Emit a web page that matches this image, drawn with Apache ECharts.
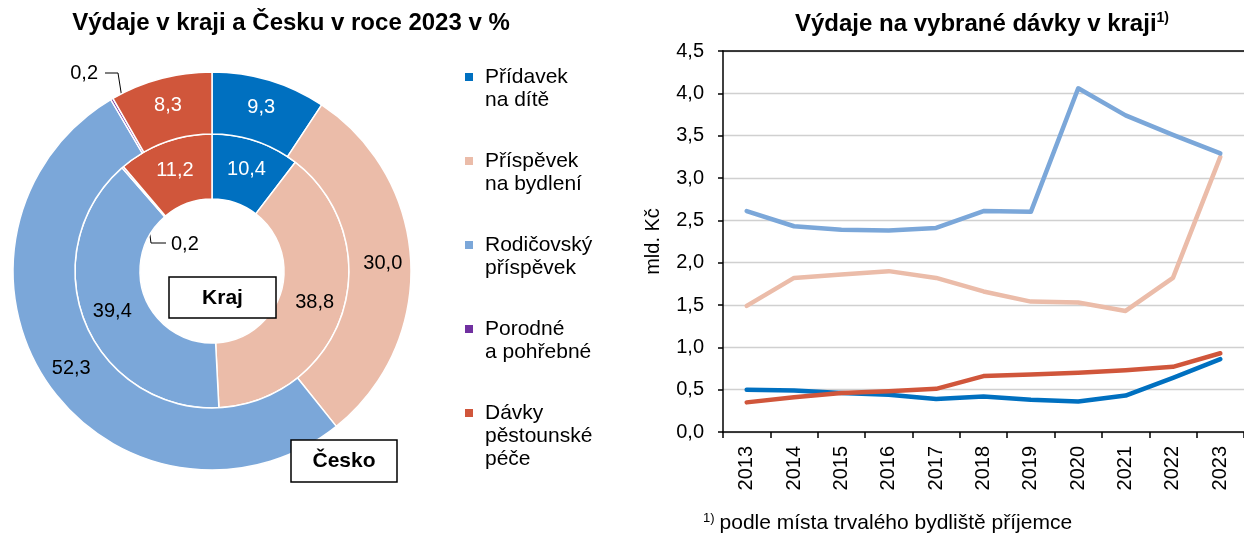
<!DOCTYPE html>
<html>
<head>
<meta charset="utf-8">
<script src="https://cdn.jsdelivr.net/npm/echarts@6/dist/echarts.min.js"></script>
<style>
  html, body { margin: 0; padding: 0; background: #fff; }
  #chart { width: 1244px; height: 535px; }
</style>
</head>
<body>
<div id="chart"></div>
<script>
// dávky – názvy, legenda, barvy
const benefitNames = ['Přídavek na dítě', 'Příspěvek na bydlení', 'Rodičovský příspěvek', 'Porodné a pohřebné', 'Dávky pěstounské péče']
const legendText = ['Přídavek\nna dítě', 'Příspěvek\nna bydlení', 'Rodičovský\npříspěvek', 'Porodné\na pohřebné', 'Dávky\npěstounské\npéče']
const benefitColors = ['#0070C0', '#EBBCA9', '#7BA7D9', '#7030A0', '#D0563B']
const labelColors = ['#fff', '#000', '#000', '#000', '#fff']

// struktura výdajů 2023 v %
const krajShare = [10.4, 38.8, 39.4, 0.2, 11.2]
const ceskoShare = [9.3, 30.0, 52.3, 0.2, 8.3]

// výdaje v kraji, mld. Kč
const years = ['2013', '2014', '2015', '2016', '2017', '2018', '2019', '2020', '2021', '2022', '2023']
const pridavek = [0.50, 0.49, 0.46, 0.44, 0.39, 0.42, 0.38, 0.36, 0.43, 0.64, 0.86]
const bydleni = [1.49, 1.82, 1.86, 1.90, 1.82, 1.66, 1.54, 1.53, 1.43, 1.82, 3.25]
const rodicovsky = [2.61, 2.43, 2.39, 2.38, 2.41, 2.61, 2.60, 4.06, 3.74, 3.51, 3.29]
const pestounske = [0.35, 0.41, 0.46, 0.48, 0.51, 0.66, 0.68, 0.70, 0.73, 0.77, 0.93]

const font = 'Arial, "Liberation Sans", sans-serif'
const pieCenter = [212, 271]
const fmt = v => v.toFixed(1).replace('.', ',')

// střed výseče na daném poloměru (kvůli odkazové čáře u 0,2)
function sliceMid (values, idx, r) {
  const total = values.reduce((a, b) => a + b, 0)
  const before = values.slice(0, idx).reduce((a, b) => a + b, 0)
  const ang = (before + values[idx] / 2) / total * 2 * Math.PI
  return [pieCenter[0] + r * Math.sin(ang), pieCenter[1] - r * Math.cos(ang)]
}

function pieData (values) {
  return values.map((v, i) => ({
    name: benefitNames[i],
    value: v,
    itemStyle: { color: benefitColors[i] },
    label: i === 3 ? { position: 'outside', color: '#000' } : { color: labelColors[i] },
    labelLine: { show: i === 3, lineStyle: { color: '#000', width: 1 } }
  }))
}

const pieBase = {
  type: 'pie',
  center: pieCenter,
  startAngle: 90,
  clockwise: true,
  avoidLabelOverlap: false,
  silent: true,
  itemStyle: { borderColor: '#fff', borderWidth: 1.5 },
  label: { position: 'inside', fontSize: 20, fontFamily: font, formatter: p => fmt(p.value) },
  labelLine: { show: false },
  emphasis: { disabled: true }
}

function lineSeries (name, data, color) {
  return {
    name: name,
    type: 'line',
    data: data,
    symbol: 'none',
    xAxisIndex: 0,
    yAxisIndex: 0,
    itemStyle: { color: color },
    lineStyle: { color: color, width: 4.5, cap: 'round', join: 'round' }
  }
}

// legenda: text se centruje na ikonu, proto prázdné řádky kolem,
// aby první řádek seděl u ikony a všechny položky byly stejně vysoké
const legendLineH = 23
function legendLabel (name) {
  const lines = legendText[benefitNames.indexOf(name)].split('\n')
  const out = ['', ''].concat(lines)
  while (out.length < 5) out.push('')
  return out.join('\n')
}

const chart = echarts.init(document.getElementById('chart'))
chart.setOption({
  animation: false,
  textStyle: { fontFamily: font, color: '#000' },
  title: [
    {
      text: 'Výdaje v kraji a Česku v roce 2023 v %',
      left: 291,
      top: 11,
      textAlign: 'center',
      padding: 0,
      textStyle: { fontSize: 24, fontWeight: 'bold', color: '#000', fontFamily: font }
    },
    {
      text: '{t|Výdaje na vybrané dávky v kraji}{s|1)}',
      left: 982,
      top: 11,
      textAlign: 'center',
      padding: 0,
      textStyle: {
        rich: {
          t: { fontSize: 24, fontWeight: 'bold', color: '#000', fontFamily: font, lineHeight: 27 },
          s: { fontSize: 14, fontWeight: 'bold', color: '#000', fontFamily: font, verticalAlign: 'top', lineHeight: 27 }
        }
      }
    },
    {
      text: '{s|1)} {t|podle místa trvalého bydliště příjemce}',
      left: 703,
      top: 512,
      padding: 0,
      textStyle: {
        fontWeight: 'normal',
        rich: {
          t: { fontSize: 21, fontWeight: 'normal', color: '#000', fontFamily: font, lineHeight: 23 },
          s: { fontSize: 13, fontWeight: 'normal', color: '#000', fontFamily: font, verticalAlign: 'top', lineHeight: 23 }
        }
      }
    }
  ],
  legend: {
    orient: 'vertical',
    left: 465,
    top: 73 - (2.5 * legendLineH - 4),
    padding: 0,
    itemGap: 84 - 5 * legendLineH,
    itemWidth: 8,
    itemHeight: 8,
    icon: 'rect',
    selectedMode: false,
    itemStyle: { borderWidth: 0 },
    formatter: legendLabel,
    textStyle: { fontSize: 21, lineHeight: legendLineH, color: '#000', fontFamily: font, padding: [0, 0, 0, 7] },
    data: benefitNames.map((n, i) => ({ name: n, itemStyle: { color: benefitColors[i], borderWidth: 0 } }))
  },
  grid: { left: 723, top: 51, width: 527, bottom: 103 },
  xAxis: [
    {
      type: 'category',
      data: years,
      boundaryGap: true,
      axisLine: { lineStyle: { color: '#000', width: 1.5 } },
      axisTick: { show: true, length: 6, lineStyle: { color: '#000', width: 1.5 } },
      axisLabel: { rotate: 90, interval: 0, fontSize: 20, margin: 14, color: '#000' },
      splitLine: { show: false }
    },
    {
      type: 'category',
      data: years,
      position: 'top',
      axisLine: { show: true, lineStyle: { color: '#000', width: 1.5 } },
      axisTick: { show: false },
      axisLabel: { show: false },
      splitLine: { show: false }
    }
  ],
  yAxis: {
    type: 'value',
    min: 0,
    max: 4.5,
    interval: 0.5,
    name: 'mld. Kč',
    nameLocation: 'middle',
    nameGap: 60,
    nameTextStyle: { fontSize: 20, color: '#000' },
    axisLine: { show: true, lineStyle: { color: '#000', width: 1.5 } },
    axisTick: { show: true, length: 5, lineStyle: { color: '#000', width: 1.5 } },
    axisLabel: { fontSize: 20, margin: 19, color: '#000', formatter: v => fmt(v) },
    splitLine: { show: true, lineStyle: { color: '#D0D0D0', width: 1.3 } }
  },
  series: [
    Object.assign({}, pieBase, {
      name: 'Kraj',
      radius: [72, 137],
      data: pieData(krajShare),
      labelLayout: p => {
        if (p.dataIndex !== 3) return {}
        return {
          x: 171,
          y: 244,
          align: 'left',
          verticalAlign: 'middle',
          labelLinePoints: [sliceMid(krajShare, 3, 104), [151, 243], [166, 243]]
        }
      }
    }),
    Object.assign({}, pieBase, {
      name: 'Česko',
      radius: [137, 199],
      data: pieData(ceskoShare),
      labelLayout: p => {
        if (p.dataIndex !== 3) return {}
        return {
          x: 98,
          y: 73,
          align: 'right',
          verticalAlign: 'middle',
          labelLinePoints: [sliceMid(ceskoShare, 3, 171), [118, 73], [105, 73]]
        }
      }
    }),
    lineSeries(benefitNames[0], pridavek, benefitColors[0]),
    lineSeries(benefitNames[1], bydleni, benefitColors[1]),
    lineSeries(benefitNames[2], rodicovsky, benefitColors[2]),
    lineSeries(benefitNames[4], pestounske, benefitColors[4])
  ],
  graphic: [
    { type: 'rect', z: 100, shape: { x: 169, y: 277, width: 107, height: 41 }, style: { fill: '#fff', stroke: '#000', lineWidth: 1.5 } },
    { type: 'text', z: 101, x: 222.5, y: 298, style: { text: 'Kraj', fontSize: 21, fontWeight: 'bold', fontFamily: font, fill: '#000', align: 'center', verticalAlign: 'middle' } },
    { type: 'rect', z: 100, shape: { x: 291, y: 440, width: 106, height: 42 }, style: { fill: '#fff', stroke: '#000', lineWidth: 1.5 } },
    { type: 'text', z: 101, x: 344, y: 461.5, style: { text: 'Česko', fontSize: 21, fontWeight: 'bold', fontFamily: font, fill: '#000', align: 'center', verticalAlign: 'middle' } }
  ]
})
</script>
</body>
</html>
